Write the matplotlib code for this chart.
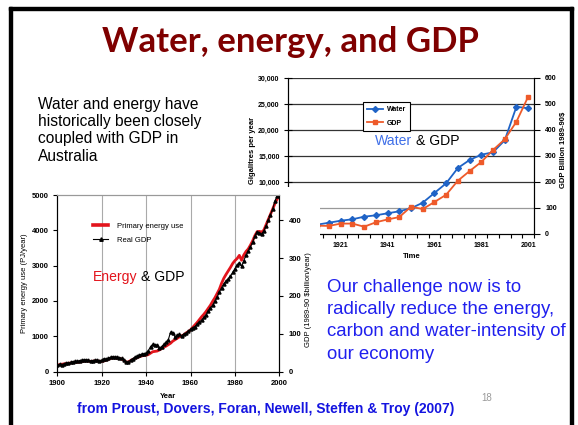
import numpy as np
import matplotlib
matplotlib.use("Agg")
import matplotlib.pyplot as plt
from matplotlib.patches import Rectangle
from matplotlib.lines import Line2D
from matplotlib.ticker import FuncFormatter

# ---------------- data ----------------
water_years = [1901, 1906, 1911, 1916, 1921, 1926, 1931, 1936, 1941, 1946, 1951,
               1956, 1961, 1966, 1971, 1976, 1981, 1986, 1991, 1996, 2001]
water_gl = [1300, 1500, 1800, 2170, 2560, 2830, 3330, 3600, 3980, 4370, 4940,
            6020, 7890, 9750, 12690, 14230, 15250, 15710, 18020, 24480, 24170]
water_gdp = [25, 28, 32, 31, 40, 40, 28, 45, 56, 65, 105,
             96, 123, 151, 205, 242, 277, 323, 364, 432, 528]
water_xlabels = [1921, 1941, 1961, 1981, 2001]

energy_years = list(range(1900, 2001))
energy_pj = [180, 195, 205, 215, 225, 235, 240, 255, 265, 260,
             265, 280, 290, 300, 295, 285, 290, 300, 295, 290,
             285, 300, 320, 345, 370, 390, 380, 375, 370, 355,
             320, 265, 270, 310, 340, 370, 395, 420, 440, 455,
             460, 480, 520, 560, 570, 580, 610, 650, 690, 720,
             760, 800, 860, 900, 940, 980, 1010, 1040, 1090, 1130,
             1180, 1250, 1320, 1390, 1470, 1550, 1620, 1700, 1790, 1880,
             1990, 2090, 2210, 2330, 2500, 2640, 2750, 2850, 2950, 3060,
             3140, 3200, 3290, 3150, 3300, 3400, 3470, 3580, 3700, 3850,
             3960, 3970, 3950, 4000, 4150, 4300, 4450, 4600, 4750, 4880,
             5000]
gdp_bn = [17, 19, 18, 20, 22, 23, 24, 26, 27, 27,
          29, 30, 31, 31, 30, 28, 29, 30, 30, 29,
          30, 34, 33, 35, 38, 39, 38, 38, 37, 35,
          30, 24, 26, 30, 34, 38, 41, 44, 46, 47,
          48, 55, 66, 72, 71, 69, 62, 66, 72, 77,
          84, 104, 102, 92, 96, 98, 95, 99, 101, 106,
          112, 116, 119, 125, 131, 136, 143, 150, 160, 168,
          176, 186, 197, 210, 222, 232, 240, 245, 252, 262,
          272, 282, 288, 278, 293, 308, 318, 330, 343, 358,
          370, 366, 364, 372, 385, 400, 415, 430, 450, 465,
          478]
energy_xticks = [1900, 1920, 1940, 1960, 1980, 2000]
energy_grid_years = [1920, 1940, 1960, 1980]

# ---------------- style ----------------
W, H = 578, 425
NARROW = ['Liberation Sans Narrow', 'Liberation Sans', 'DejaVu Sans']
ARIAL = ['Liberation Sans', 'DejaVu Sans']
plt.rcParams['font.family'] = NARROW
plt.rcParams['font.weight'] = 'bold'

BLUE = '#1f63c6'
ORANGE = '#ee5a2a'
RED = '#e3141c'


def fbox(x0, y0, x1, y1):
    return [x0 / W, 1 - y1 / H, (x1 - x0) / W, (y1 - y0) / H]


def fx(x):
    return x / W


def fy(y):
    return 1 - y / H


fig = plt.figure(figsize=(W / 100, H / 100), dpi=100)
fig.patch.set_facecolor('white')

# slide frame
for (x0, y0, x1, y1) in [(9, 7, 573, 10), (9, 7, 12, 425), (570, 7, 573, 425)]:
    fig.add_artist(Rectangle((fx(x0), fy(y1)), (x1 - x0) / W, (y1 - y0) / H,
                             transform=fig.transFigure, color='black', zorder=10))

fig.text(fx(290), fy(42), 'Water, energy, and GDP', ha='center', va='center',
         fontsize=25, fontweight='bold', color='#7f0000', family=['Lato', 'DejaVu Sans'])

# ---------------- water chart ----------------
axw = fig.add_axes(fbox(288, 78, 534, 234), zorder=1)
axw.set_facecolor('none')
for v in [10000, 15000, 20000, 25000, 30000]:
    axw.axhline(v, color='#333333', lw=0.9, zorder=0.5)
axw.axhline(5000, color='#999999', lw=0.9, zorder=0.5)
l1, = axw.plot(water_years, water_gl, color=BLUE, marker='D', ms=3.0, lw=1.3, zorder=2)
axw.set_xlim(1898.5, 2003.5)
axw.set_ylim(0, 30000)
axw.spines['top'].set_visible(False)
axw.set_yticks(range(0, 30001, 5000))
axw.yaxis.set_major_formatter(FuncFormatter(lambda v, p: f'{v:,.0f}'))
axw.set_xticks(water_xlabels)
axw.set_xticks(np.arange(1898.5, 2004, 5), minor=True)
axw.tick_params(axis='x', which='major', length=0, pad=6, labelsize=5)
axw.tick_params(axis='x', which='minor', length=3, direction='out', width=0.8)
axw.tick_params(axis='y', direction='inout', length=6, labelsize=5, pad=3, width=0.8)
for s in axw.spines.values():
    s.set_linewidth(0.8)
fig.text(fx(412), fy(257), 'Time', ha='center', va='center', fontsize=5.5)
fig.text(fx(252), fy(150), 'Gigalitres per year', ha='center', va='center',
         rotation=90, fontsize=5.5)

axw2 = axw.twinx()
axw2.set_zorder(1.5)
l2, = axw2.plot(water_years, water_gdp, color=ORANGE, marker='s', ms=3.0, lw=1.3)
axw2.set_ylim(0, 600)
axw2.set_yticks(range(0, 601, 100))
axw2.spines['top'].set_visible(False)
for s in axw2.spines.values():
    s.set_linewidth(0.8)
axw2.tick_params(axis='y', direction='out', length=4, labelsize=5, pad=4, width=0.8)
fig.text(fx(564), fy(150), 'GDP Billion 1989-90$', ha='center', va='center',
         rotation=90, fontsize=5.5)
leg = axw2.legend([l1, l2], ['Water', 'GDP'], loc='upper left',
                  bbox_to_anchor=(0.305, 0.846), borderaxespad=0, fontsize=5,
                  frameon=True, fancybox=False, edgecolor='black', framealpha=1,
                  borderpad=0.6, handlelength=2.3, handletextpad=0.5,
                  labelspacing=0.95)
leg.get_frame().set_linewidth(0.8)

fig.text(fx(412.3), fy(141), 'Water', ha='right', va='center', fontsize=10.1,
         fontweight='normal', family=ARIAL, color='#3f6fe8')
fig.text(fx(416.2), fy(141), '& GDP', ha='left', va='center', fontsize=10.1,
         fontweight='normal', family=ARIAL, color='black')

# cover (energy chart picture background)
fig.add_artist(Rectangle((fx(12), 0), (320 - 12) / W, fy(187), transform=fig.transFigure,
                         facecolor='white', edgecolor='none', zorder=2))

# ---------------- energy chart ----------------
axe = fig.add_axes(fbox(57.3, 195, 279.3, 371.5), zorder=3)
axe.set_facecolor('white')
for yr in energy_grid_years:
    axe.axvline(yr, color='#aaaaaa', lw=0.8, zorder=0.5)
le, = axe.plot(energy_years, energy_pj, color=RED, lw=2.0, zorder=2)
axe.set_xlim(1900, 2000)
axe.set_ylim(0, 5000)
axe.set_xticks(energy_xticks)
axe.set_yticks(range(0, 5001, 1000))
axe.tick_params(direction='out', length=3, labelsize=5.5, width=0.8, pad=3)
for s in axe.spines.values():
    s.set_linewidth(0.8)
axe.spines['top'].set_color('#999999')

axe2 = axe.twinx()
axe2.set_zorder(3.5)
lg, = axe2.plot(energy_years, gdp_bn, color='black', lw=0.8, marker='^', ms=2.2)
axe2.set_ylim(0, 467)
axe2.set_yticks(range(0, 401, 100))
axe2.tick_params(axis='y', direction='out', length=3, labelsize=5.5, width=0.8, pad=4)
for s in axe2.spines.values():
    s.set_linewidth(0.8)
axe2.spines['top'].set_color('#999999')

hr = Line2D([], [], color=RED, lw=2.6)
hb = Line2D([], [], color='black', lw=0.8, marker='^', ms=2.5)
leg2 = axe2.legend([hr, hb], ['Primary energy use', 'Real GDP'], loc='upper left',
                   bbox_to_anchor=(0.161, 0.843), borderaxespad=0, borderpad=0,
                   frameon=False, fontsize=5.5, handlelength=2.0, handletextpad=1.2,
                   labelspacing=0.85)
for t in leg2.get_texts():
    t.set_fontweight('normal')

fig.text(fx(25), fy(283), 'Primary energy use (PJ/year)', ha='center', va='center',
         rotation=90, fontsize=5.5, fontweight='normal')
fig.text(fx(309), fy(300), 'GDP (1989-90 $billion/year)', ha='center', va='center',
         rotation=90, fontsize=5.5, fontweight='normal')
fig.text(fx(168), fy(396), 'Year', ha='center', va='center', fontsize=5.5)

fig.text(fx(137.4), fy(277), 'Energy', ha='right', va='center', fontsize=10.1,
         fontweight='normal', family=ARIAL, color=RED, zorder=5)
fig.text(fx(141.2), fy(277), '& GDP', ha='left', va='center', fontsize=10.1,
         fontweight='normal', family=ARIAL, color='black', zorder=5)

# ---------------- slide text ----------------
left_lines = ['Water and energy have', 'historically been closely',
              'coupled with GDP in', 'Australia']
for i, t in enumerate(left_lines):
    fig.text(fx(38), fy(109 + 17.2 * i), t, ha='left', va='baseline',
             fontsize=11.2, fontweight='normal', family=ARIAL, color='black')

blue_lines = ['Our challenge now is to', 'radically reduce the energy,',
              'carbon and water-intensity of', 'our economy']
for i, t in enumerate(blue_lines):
    fig.text(fx(327), fy(292 + 22.2 * i), t, ha='left', va='baseline',
             fontsize=13.4, fontweight='normal', family=ARIAL, color='#2020ee', zorder=5)

fig.text(fx(266), fy(409), 'from Proust, Dovers, Foran, Newell, Steffen & Troy (2007)',
         ha='center', va='center', fontsize=10, fontweight='bold', family=ARIAL,
         color='#1414e0')
fig.text(fx(487), fy(398), '18', ha='center', va='center', fontsize=7,
         fontweight='normal', family=ARIAL, color='#999999')

fig.savefig('out.png', dpi=100, facecolor='white')
